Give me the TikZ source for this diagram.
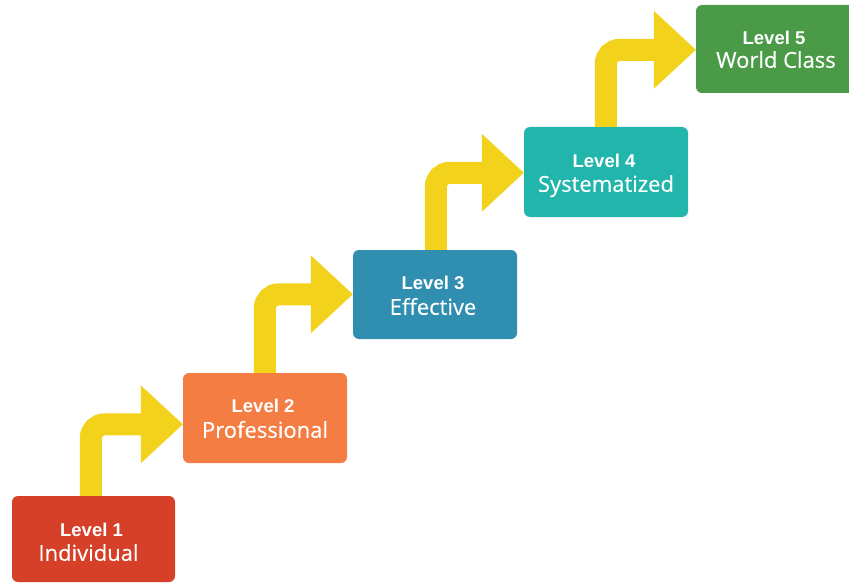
\documentclass[tikz,border=0pt]{standalone}
\usepackage{fontspec}
\setmainfont{Open Sans}
\newfontfamily\nmfont{Open Sans}[FakeBold=0.3]
\newfontfamily\lvlfont{Liberation Sans}
\usetikzlibrary{calc}
\definecolor{cone}{HTML}{D64028}
\definecolor{ctwo}{HTML}{F47D43}
\definecolor{cthree}{HTML}{308EB0}
\definecolor{cfour}{HTML}{21B5AB}
\definecolor{cfive}{HTML}{4A9A48}
\definecolor{ayellow}{HTML}{F3D21C}
\tikzset{
  box/.style={rectangle, rounded corners=6pt, inner sep=0pt, minimum width=164pt, minimum height=90pt, draw=none},
  lvl/.style={anchor=base, text=white, inner sep=0pt, font=\lvlfont\bfseries\fontsize{18.5}{22}\selectfont},
  nm/.style={anchor=base, text=white, inner sep=0pt, font=\nmfont\fontsize{22}{26}\selectfont},
  stem/.style={draw=ayellow, line width=22pt, rounded corners=14pt, line cap=butt},
  head/.style={fill=ayellow, draw=none}
}
\begin{document}
\begin{tikzpicture}[x=1pt,y=-1pt]
\useasboundingbox (0,0) rectangle (849,583);
\clip (0,0) rectangle (849,583);
\fill[white] (0,0) rectangle (849,583);
% boxes
\node[box, fill=cone, minimum width=163pt, minimum height=86pt] (b1) at (93.5,539) {};
\node[box, fill=ctwo] (b2) at (265,418) {};
\node[box, fill=cthree, minimum height=89pt] (b3) at (435,294.5) {};
\node[box, fill=cfour] (b4) at (606,172) {};
\node[box, fill=cfive, minimum height=88pt] (b5) at (778,49) {};
% arrows
\coordinate (h1) at ($(b2.north west)+(-42,51.5)$);
\draw[stem] ($(b1.north west)+(79,0)$) |- ($(h1)+(1,0)$);
\fill[head] ($(h1)+(0,-39)$) -- ($(b2.north west)+(0,51.5)$) -- ($(h1)+(0,39)$) -- cycle;
\coordinate (h2) at ($(b3.north west)+(-42,44.5)$);
\draw[stem] ($(b2.north west)+(82,0)$) |- ($(h2)+(1,0)$);
\fill[head] ($(h2)+(0,-39)$) -- ($(b3.north west)+(0,44.5)$) -- ($(h2)+(0,39)$) -- cycle;
\coordinate (h3) at ($(b4.north west)+(-42,46)$);
\draw[stem] ($(b3.north west)+(83,0)$) |- ($(h3)+(1,0)$);
\fill[head] ($(h3)+(0,-39)$) -- ($(b4.north west)+(0,46)$) -- ($(h3)+(0,39)$) -- cycle;
\coordinate (h4) at ($(b5.north west)+(-42,45)$);
\draw[stem] ($(b4.north west)+(82,0)$) |- ($(h4)+(1,0)$);
\fill[head] ($(h4)+(0,-39)$) -- ($(b5.north west)+(0,45)$) -- ($(h4)+(0,39)$) -- cycle;
% texts
\node[lvl] (l1) at ($(b1.north)+(-2,41)$) {Level 1};
\node[nm] (n1) at ($(b1.north)+(-5,65)$) {Individual};
\node[lvl] (l2) at ($(b2.north)+(-2,40)$) {Level 2};
\node[nm] (n2) at ($(b2.north)+(0,65)$) {Professional};
\node[lvl] (l3) at ($(b3.north)+(-2,40)$) {Level 3};
\node[nm] (n3) at ($(b3.north)+(-2,65)$) {Effective};
\node[lvl] (l4) at ($(b4.north)+(-2,41)$) {Level 4};
\node[nm] (n4) at ($(b4.north)+(0,65)$) {Systematized};
\node[lvl] (l5) at ($(b5.north)+(-4,40)$) {Level 5};
\node[nm] (n5) at ($(b5.north)+(-2,63)$) {World Class};
\end{tikzpicture}
\end{document}
